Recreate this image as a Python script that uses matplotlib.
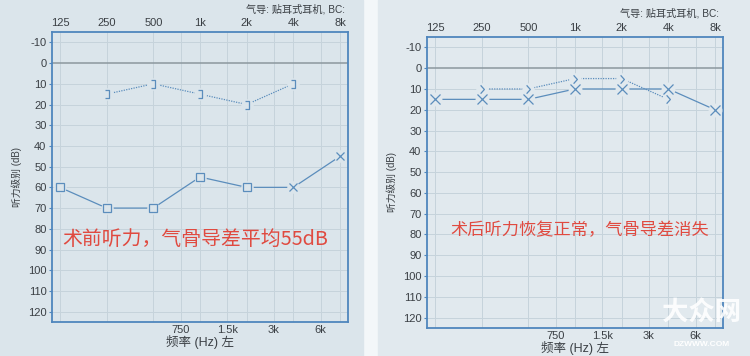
import numpy as np
import matplotlib
matplotlib.use('Agg')
import matplotlib.pyplot as plt
from matplotlib.path import Path
from matplotlib.patches import Rectangle

plt.rcParams['font.family'] = ['Liberation Sans', 'Noto Sans CJK SC', 'DejaVu Sans']
plt.rcParams['axes.unicode_minus'] = False

# axis labels
freq_top = [125, 250, 500, 1000, 2000, 4000, 8000]
top_labels = ['125', '250', '500', '1k', '2k', '4k', '8k']
freq_bottom = [750, 1500, 3000, 6000]
bottom_labels = ['750', '1.5k', '3k', '6k']
db_ticks = list(range(-10, 121, 10))

# before surgery (left ear)
pre_ac_freq = [125, 250, 500, 1000, 2000, 4000, 8000]
pre_ac_db = [60, 70, 70, 55, 60, 60, 45]
pre_ac_sym = ['s', 's', 's', 's', 's', 'x', 'x']
pre_bc_freq = [250, 500, 1000, 2000, 4000]
pre_bc_db = [15, 10, 15, 20, 10]

# after surgery
post_ac_freq = [125, 250, 500, 1000, 2000, 4000, 8000]
post_ac_db = [15, 15, 15, 10, 10, 10, 20]
post_bc_freq = [250, 500, 1000, 2000, 4000]
post_bc_db = [10, 10, 5, 5, 15]

header = '气导: 贴耳式耳机, BC:'
ylab = '听力级别 (dB)'
xlab = '频率 (Hz) 左'
note_pre = '术前听力，气骨导差平均55dB'
note_post = '术后听力恢复正常，气骨导差消失'

bg_l = '#dbe5eb'
bg_r = '#e1e9ee'
blue = '#4f86bd'
line_c = '#5b8dbc'
grid_c = '#c6d3db'
txt_c = '#3a3f44'
red = '#e04a40'

bracket = Path([(-0.4, 1), (0.4, 1), (0.4, -1), (-0.4, -1)],
               [Path.MOVETO, Path.LINETO, Path.LINETO, Path.LINETO])
chevron = Path([(-0.45, 1), (0.45, 0), (-0.45, -1)],
               [Path.MOVETO, Path.LINETO, Path.LINETO])

fig = plt.figure(figsize=(7.5, 3.56), dpi=100, facecolor='#f3f7f9')
fig.patches.append(Rectangle((0, 0), 363 / 750, 1, transform=fig.transFigure,
                             color=bg_l, zorder=-10))
fig.patches.append(Rectangle((378 / 750, 0), 1 - 378 / 750, 1, transform=fig.transFigure,
                             color=bg_r, zorder=-10))


def setup(ax, bg):
    ax.set_facecolor(bg)
    ax.set_xscale('log', base=2)
    ax.set_xlim(125 * 2 ** -0.17, 8000 * 2 ** 0.17)
    ax.set_ylim(125, -15)
    ax.set_xticks(freq_top)
    ax.set_xticklabels(top_labels)
    ax.xaxis.set_minor_locator(matplotlib.ticker.NullLocator())
    ax.tick_params(axis='x', top=True, labeltop=True, bottom=False, labelbottom=False,
                   length=0, pad=3, labelsize=8, labelcolor=txt_c)
    ax.set_yticks(db_ticks)
    ax.tick_params(axis='y', length=2, pad=2, labelsize=8, labelcolor=txt_c, color=blue)
    for f in freq_top + freq_bottom:
        ax.axvline(f, color=grid_c, lw=0.7, zorder=0)
    for d in db_ticks:
        if d != 0:
            ax.axhline(d, color=grid_c, lw=0.7, zorder=0)
    ax.axhline(0, color='#8c979e', lw=1.1, zorder=1)
    for s in ax.spines.values():
        s.set_color(blue)
        s.set_linewidth(1.3)
    sec = ax.secondary_xaxis('bottom')
    sec.set_xticks(freq_bottom)
    sec.set_xticklabels(bottom_labels)
    sec.xaxis.set_minor_locator(matplotlib.ticker.NullLocator())
    sec.tick_params(which='both', length=0, pad=2, labelsize=8, labelcolor=txt_c)
    sec.spines['bottom'].set_visible(False)
    sec.set_xlabel(xlab, fontsize=9, color=txt_c, labelpad=0)
    ax.set_ylabel(ylab, fontsize=7, color=txt_c, labelpad=4)


def marks(ax, fx, dy, marker, ms, bg):
    ax.plot(fx, dy, ls='none', marker='o', ms=ms + 3, mfc=bg, mec='none', zorder=3)
    ax.plot(fx, dy, ls='none', marker=marker, ms=ms, mfc='none', mec=line_c,
            mew=0.9, zorder=4)


# left: before surgery
ax1 = fig.add_axes([52 / 750, 1 - 322 / 356, 296 / 750, 290 / 356])
setup(ax1, bg_l)
ax1.plot(pre_bc_freq, pre_bc_db, color=line_c, lw=0.9, ls=(0, (1, 1)), zorder=2)
ax1.plot(pre_ac_freq, pre_ac_db, color=line_c, lw=0.9, zorder=2)
marks(ax1, pre_bc_freq, pre_bc_db, bracket, 6, bg_l)
for sym in ['s', 'x']:
    fx = [f for f, s in zip(pre_ac_freq, pre_ac_sym) if s == sym]
    dy = [d for d, s in zip(pre_ac_db, pre_ac_sym) if s == sym]
    marks(ax1, fx, dy, sym, 6, bg_l)
ax1.text(0.035, 0.285, note_pre, transform=ax1.transAxes, color=red, fontsize=14.3,
         family=['Noto Sans CJK SC'], va='center', ha='left')
fig.text(345 / 750, 1 - 9 / 356, header, fontsize=7.3, color=txt_c, ha='right', va='center')

# right: after surgery
ax2 = fig.add_axes([427 / 750, 1 - 328 / 356, 296 / 750, 291 / 356])
setup(ax2, bg_r)
ax2.plot(post_bc_freq, post_bc_db, color=line_c, lw=0.9, ls=(0, (1, 1)), zorder=2)
ax2.plot(post_ac_freq, post_ac_db, color=line_c, lw=0.9, zorder=2)
marks(ax2, post_bc_freq, post_bc_db, chevron, 6, bg_r)
marks(ax2, post_ac_freq, post_ac_db, 'x', 7, bg_r)
ax2.text(0.08, 0.335, note_post, transform=ax2.transAxes, color=red, fontsize=12.4,
         family=['Noto Sans CJK SC'], va='center', ha='left')
fig.text(719 / 750, 1 - 13 / 356, header, fontsize=7.3, color=txt_c, ha='right', va='center')

# watermark
fig.text(702 / 750, 1 - 313 / 356, '大众网', fontsize=19, color='white', alpha=0.9,
         family=['Noto Sans CJK SC'], fontweight='bold', ha='center', va='center')
fig.text(702 / 750, 1 - 345 / 356, 'DZWWW.COM', fontsize=6, color='white',
         fontweight='bold', ha='center', va='center')

fig.savefig('out.png', dpi=100, facecolor=fig.get_facecolor())
